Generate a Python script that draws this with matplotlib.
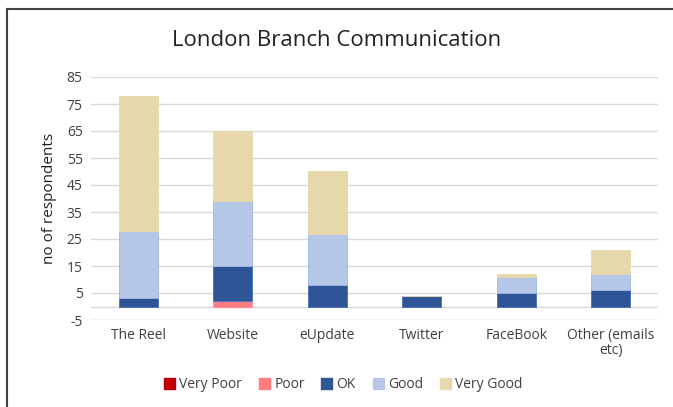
import numpy as np
import matplotlib.pyplot as plt
from matplotlib.lines import Line2D

# Data
channels = ['The Reel', 'Website', 'eUpdate', 'Twitter', 'FaceBook', 'Other (emails\netc)']
very_poor = [0, 0, 0, 0, 0, 0]
poor = [0, 2, 0, 0, 0, 0]
ok = [3, 13, 8, 4, 5, 6]
good = [25, 24, 19, 0, 6, 6]
very_good = [50, 26, 23, 0, 1, 9]

series = [('Very Poor', very_poor, '#C00000', '#C00000'),
          ('Poor', poor, '#FF7C80', '#FF9999'),
          ('OK', ok, '#2F5597', '#4472C4'),
          ('Good', good, '#B4C7E7', '#9DB6E0'),
          ('Very Good', very_good, '#E6D8AA', '#E6D8AA')]

plt.rcParams['font.family'] = ['Open Sans', 'DejaVu Sans']
plt.rcParams['axes.unicode_minus'] = False

fig = plt.figure(figsize=(6.73, 4.07), dpi=100)
ax = fig.add_axes([91 / 673, 1 - 320 / 407, 567 / 673, 243 / 407])

x = np.arange(len(channels))
bottom = np.zeros(len(channels))
for name, vals, color, edge in series:
    vals = np.array(vals, dtype=float)
    ax.bar(x, vals, 0.41, bottom=bottom, color=color, edgecolor=edge,
           linewidth=0.6, label=name, zorder=3)
    bottom += vals

ax.set_ylim(-5, 85)
ax.set_xlim(-0.5, len(channels) - 0.5)
ax.set_yticks(np.arange(-5, 86, 10))
for y in np.arange(5, 86, 10):
    ax.axhline(y, color='#D9D9D9', linewidth=1, zorder=1)
ax.axhline(0, color='#D9D9D9', linewidth=1, zorder=1)
ax.axhline(-5, color='#BFBFBF', linewidth=1, zorder=1)

for s in ax.spines.values():
    s.set_visible(False)
ax.tick_params(axis='both', length=0, labelsize=10, colors='#404040', pad=6)
ax.set_xticks(x)
ax.set_xticklabels(channels, linespacing=1.0)
ax.set_ylabel('no of respondents', fontsize=11, color='#222222', labelpad=7)

fig.text(0.5, 1 - 40 / 407, 'London Branch Communication', ha='center',
         va='center', fontsize=16, color='#222222')

handles = [plt.Rectangle((0, 0), 1, 1, color=c) for _, _, c, _ in series]
fig.legend(handles, [s[0] for s in series], loc='center',
           bbox_to_anchor=(0.51, 1 - 385 / 407), ncol=5, frameon=False,
           fontsize=10, handlelength=0.8, handleheight=0.8,
           handletextpad=0.3, columnspacing=1.2, labelcolor='#404040')

# chart border (runs off the right and bottom edge)
fig.add_artist(Line2D([7 / 673, 1.0], [1 - 9 / 407, 1 - 9 / 407],
                      color='#404040', linewidth=1.5))
fig.add_artist(Line2D([7 / 673, 7 / 673], [0.0, 1 - 9 / 407],
                      color='#404040', linewidth=1.5))

fig.savefig('out.png', dpi=100)
